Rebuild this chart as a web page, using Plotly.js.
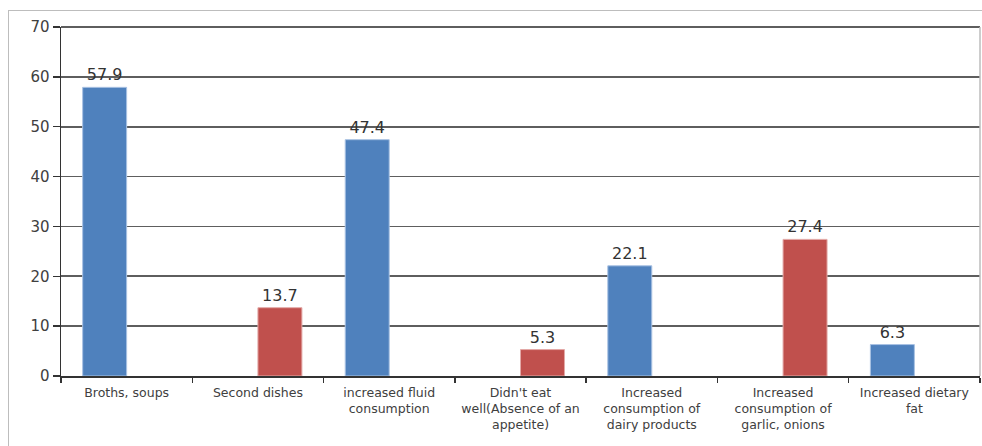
<!DOCTYPE html>
<html>
<head>
<meta charset="utf-8">
<script src="https://cdn.plot.ly/plotly-3.0.1.min.js"></script>
<style>
html,body{margin:0;padding:0;background:#fff;}
#frame{position:absolute;left:8px;top:10px;width:990px;height:460px;border:1px solid #bdbdbd;box-sizing:border-box;pointer-events:none;z-index:5;}
#chart{width:982px;height:446px;}
</style>
</head>
<body>
<div id="frame"></div>
<div id="chart"></div>
<script>
const categories = [
  "Broths, soups",
  "Second dishes",
  "increased fluid<br>consumption",
  "Didn't eat<br>well(Absence of an<br>appetite)",
  "Increased<br>consumption of<br>dairy products",
  "Increased<br>consumption of<br>garlic, onions",
  "Increased dietary<br>fat"
];
const blueValues = [57.9, null, 47.4, null, 22.1, null, 6.3];
const redValues  = [null, 13.7, null, 5.3, null, 27.4, null];
const yTicks = [0, 10, 20, 30, 40, 50, 60, 70];
const yMax = 70;

const labelFont = {family: "DejaVu Sans, Verdana, sans-serif", size: 16, color: "#333"};

const traces = [
  {
    type: "bar", x: categories, y: blueValues,
    marker: {color: "#4F81BD", line: {color: "#a9c2e3", width: 1}},
    text: blueValues.map(v => v === null ? "" : v.toFixed(1)),
    textposition: "outside", textfont: labelFont, cliponaxis: false,
    hoverinfo: "x+y"
  },
  {
    type: "bar", x: categories, y: redValues,
    marker: {color: "#C0504D", line: {color: "#e3a9a7", width: 1}},
    text: redValues.map(v => v === null ? "" : v.toFixed(1)),
    textposition: "outside", textfont: labelFont, cliponaxis: false,
    hoverinfo: "x+y"
  }
];

const layout = {
  width: 982, height: 446,
  margin: {l: 61, r: 2, t: 27, b: 70},
  paper_bgcolor: "rgba(0,0,0,0)",
  plot_bgcolor: "#fff",
  showlegend: false,
  barmode: "group",
  bargap: 0.33,
  bargroupgap: 0,
  font: {family: "DejaVu Sans, Verdana, sans-serif", color: "#404040"},
  xaxis: {
    type: "category",
    tickson: "boundaries",
    ticks: "outside", ticklen: 5, tickcolor: "#333", tickwidth: 1.5,
    showline: true, linecolor: "#333", linewidth: 1.5,
    tickfont: {size: 12.5, color: "#404040"},
    ticklabelstandoff: 4,
    tickangle: 0,
    showgrid: false,
    automargin: false
  },
  yaxis: {
    range: [0, yMax],
    tickvals: yTicks,
    ticks: "outside", ticklen: 7, tickcolor: "#333", tickwidth: 1.5,
    showline: true, linecolor: "#333", linewidth: 1.5,
    gridcolor: "#5e5e5e", gridwidth: 1.8,
    zeroline: false,
    tickfont: {size: 15, color: "#404040"},
    automargin: false
  },
  shapes: [
    {type: "line", xref: "paper", yref: "paper", x0: 0, x1: 1, y0: 1, y1: 1,
     line: {color: "#5e5e5e", width: 1.8}},
    {type: "line", xref: "paper", yref: "paper", x0: 1, x1: 1, y0: 0, y1: 1,
     line: {color: "#bdbdbd", width: 1.5}}
  ]
};

Plotly.newPlot("chart", traces, layout, {displayModeBar: false, staticPlot: true});
</script>
</body>
</html>
